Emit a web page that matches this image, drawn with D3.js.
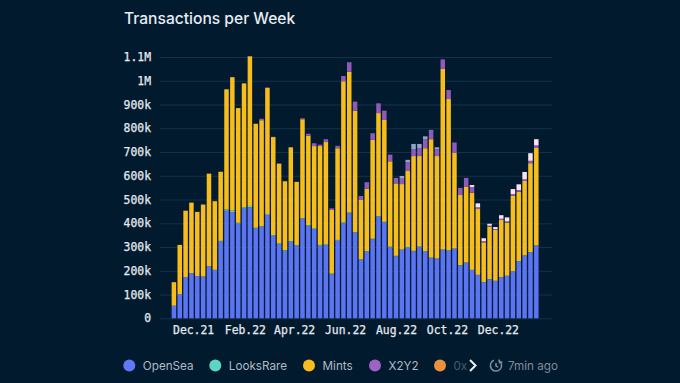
<!DOCTYPE html>
<html>
<head>
<meta charset="utf-8">
<script src="https://cdn.jsdelivr.net/npm/d3@7"></script>
<style>
  html, body { margin: 0; padding: 0; background: #021a2e; }
  svg { display: block; }
  .title { font-family: Inter, sans-serif; font-weight: 500; font-size: 15.6px; fill: #e6ecf2; }
  .axis text { font-family: "DejaVu Sans Mono", monospace; font-size: 11.4px; fill: #e4e9ee; stroke: #e4e9ee; stroke-width: 0.25px; }
  .legend text { font-family: Inter, sans-serif; font-size: 11.7px; fill: #aeb9c3; }
</style>
</head>
<body>
<div id="chart"></div>
<script>
// values in thousands, one per week
const openSea = [53,101,173,190,178,176,219,204,323,453,447,399,462,467,378,386,435,348,313,285,323,306,420,390,376,306,309,185,327,400,442,361,247,281,333,428,404,299,261,288,298,282,300,281,254,251,288,285,292,223,234,203,182,152,164,157,173,178,198,240,264,278,306];
const looksRare = [0,0,0,0,0,0,0,0,3,5,6,3,5,6,3,2,3,2,2,2,2,2,2,2,3,3,3,3,3,3,3,2,2,2,2,2,2,2,2,2,2,2,2,2,2,2,2,2,2,1,1,1,1,1,1,1,1,1,1,1,1,1,1];
const mints = [99,208,280,297,270,303,390,289,291,506,562,483,522,630,438,446,532,413,336,290,395,266,416,377,346,416,430,268,386,595,593,511,249,263,416,434,429,360,305,275,320,399,381,433,498,430,760,636,402,295,318,325,277,167,221,214,240,224,316,292,313,374,410];
const x2y2 = [0,0,0,0,0,0,0,0,0,0,0,0,0,0,0,6,2,1,1,0,1,1,4,8,12,6,12,7,10,22,40,38,17,27,28,41,39,28,23,23,37,29,33,38,36,29,40,38,44,30,38,24,7,5,4,4,5,5,8,7,7,10,11];
const sudoswap = [0,0,0,0,0,0,0,0,0,0,0,0,0,0,0,0,0,0,0,0,0,0,0,0,0,0,0,0,0,0,0,0,0,0,0,0,0,0,0,11,10,22,18,12,3,8,0,0,0,0,0,0,0,0,0,0,0,0,0,0,0,0,0];
const blur = [0,0,0,0,0,0,0,0,0,0,0,0,0,0,0,0,0,0,0,0,0,0,0,0,0,0,0,0,0,0,0,0,0,0,0,0,0,0,0,0,0,0,0,0,0,0,0,0,0,0,0,8,17,12,8,8,15,17,21,24,31,32,26];

const seriesKeys = ['OpenSea', 'LooksRare', 'Mints', 'X2Y2', 'Sudoswap', 'Blur'];
const seriesValues = [openSea, looksRare, mints, x2y2, sudoswap, blur];
const seriesColors = ['#5b74f2', '#5cd6c4', '#f6bd1d', '#9159b9', '#8ea6c9', '#fbe3ee'];

const yTicks = [0,100,200,300,400,500,600,700,800,900,1000,1100];
const monthTicks = ['2021-12-01','2022-02-01','2022-04-01','2022-06-01','2022-08-01','2022-10-01','2022-12-01'];
const legendNames = ['OpenSea', 'LooksRare', 'Mints', 'X2Y2', '0x'];
const legendColors = ['#5f78f5', '#5cd6c4', '#f6bd1d', '#9e62c4', '#e9913f'];

const width = 680;
const height = 383;

const svg = d3.select('#chart').append('svg')
  .attr('viewBox', [0, 0, width, height])
  .attr('width', width)
  .attr('height', height);

const weeks = d3.utcMonday.range(new Date(Date.UTC(2021, 10, 8)), new Date(Date.UTC(2023, 0, 17)));

const xScale = d3.scaleTime()
  .domain([weeks[0], weeks[weeks.length - 1]])
  .range([173.9, 536.3]);

const yScale = d3.scaleLinear()
  .domain([0, 1100])
  .range([318.3, 57]);

const barWidth = 4.5;

svg.append('text')
  .attr('class', 'title')
  .attr('x', 124)
  .attr('y', 24)
  .text('Transactions per Week');

// grid lines + y labels
const yAxis = svg.append('g')
  .attr('class', 'axis')
  .attr('transform', 'translate(160, 0)')
  .call(d3.axisLeft(yScale)
    .tickValues(yTicks)
    .tickSize(-392)
    .tickPadding(9)
    .tickFormat(d => d === 0 ? '0' : d >= 1000 ? (d / 1000) + 'M' : d + 'k'));
yAxis.select('.domain').remove();
yAxis.selectAll('line').attr('stroke', '#12324c').attr('stroke-width', 1);

const rows = weeks.map((w, i) => {
  const row = { week: w };
  seriesKeys.forEach((k, j) => { row[k] = seriesValues[j][i]; });
  return row;
});

const stacked = d3.stack().keys(seriesKeys)(rows);

svg.append('g')
  .selectAll('g')
  .data(stacked)
  .join('g')
    .attr('fill', (d, i) => seriesColors[i])
  .selectAll('rect')
  .data(d => d)
  .join('rect')
    .attr('x', d => xScale(d.data.week) - barWidth / 2)
    .attr('y', d => yScale(d[1]))
    .attr('width', barWidth)
    .attr('height', d => yScale(d[0]) - yScale(d[1]));

const xAxis = svg.append('g')
  .attr('class', 'axis')
  .attr('transform', 'translate(0, 318.3)')
  .call(d3.axisBottom(xScale)
    .tickValues(monthTicks.map(d => new Date(d + 'T00:00:00Z')))
    .tickSize(0)
    .tickPadding(8)
    .tickFormat(d3.utcFormat('%b.%y')));
xAxis.select('.domain').remove();

// legend
const legendX = { 'OpenSea': 129.3, 'LooksRare': 215.3, 'Mints': 309, 'X2Y2': 375, '0x': 440 };

const legend = svg.append('g').attr('class', 'legend');

const legendItems = legend.selectAll('g')
  .data(legendNames)
  .join('g')
    .attr('transform', d => `translate(${legendX[d]}, 365.5)`);

legendItems.append('circle')
  .attr('r', 6)
  .attr('fill', (d, i) => legendColors[i]);

legendItems.append('text')
  .attr('x', 13.5)
  .attr('dy', '0.36em')
  .attr('opacity', d => d === '0x' ? 0.4 : 1)
  .text(d => d);

// scroll arrow
legend.append('path')
  .attr('d', 'M470 360 L475.5 365.5 L470 371')
  .attr('fill', 'none')
  .attr('stroke', '#eef2f5')
  .attr('stroke-width', 2);

// refresh clock
const clock = legend.append('g').attr('transform', 'translate(496, 365.5)')
  .attr('fill', 'none')
  .attr('stroke', '#7f8d9b')
  .attr('stroke-width', 1.5);
clock.append('path').attr('d', d3.arc()({ innerRadius: 5.6, outerRadius: 5.6, startAngle: 0.5, endAngle: 5.9 }));
clock.append('path').attr('d', 'M0 -2.5 L0 0.5 L2.2 1.6');
clock.append('path').attr('d', 'M3.2 -6 L3.6 -3 L6.4 -3.6');

legend.append('text')
  .attr('x', 508)
  .attr('y', 365.5)
  .attr('dy', '0.36em')
  .style('fill', '#7f8d9b')
  .text('7min ago');
</script>
</body>
</html>
